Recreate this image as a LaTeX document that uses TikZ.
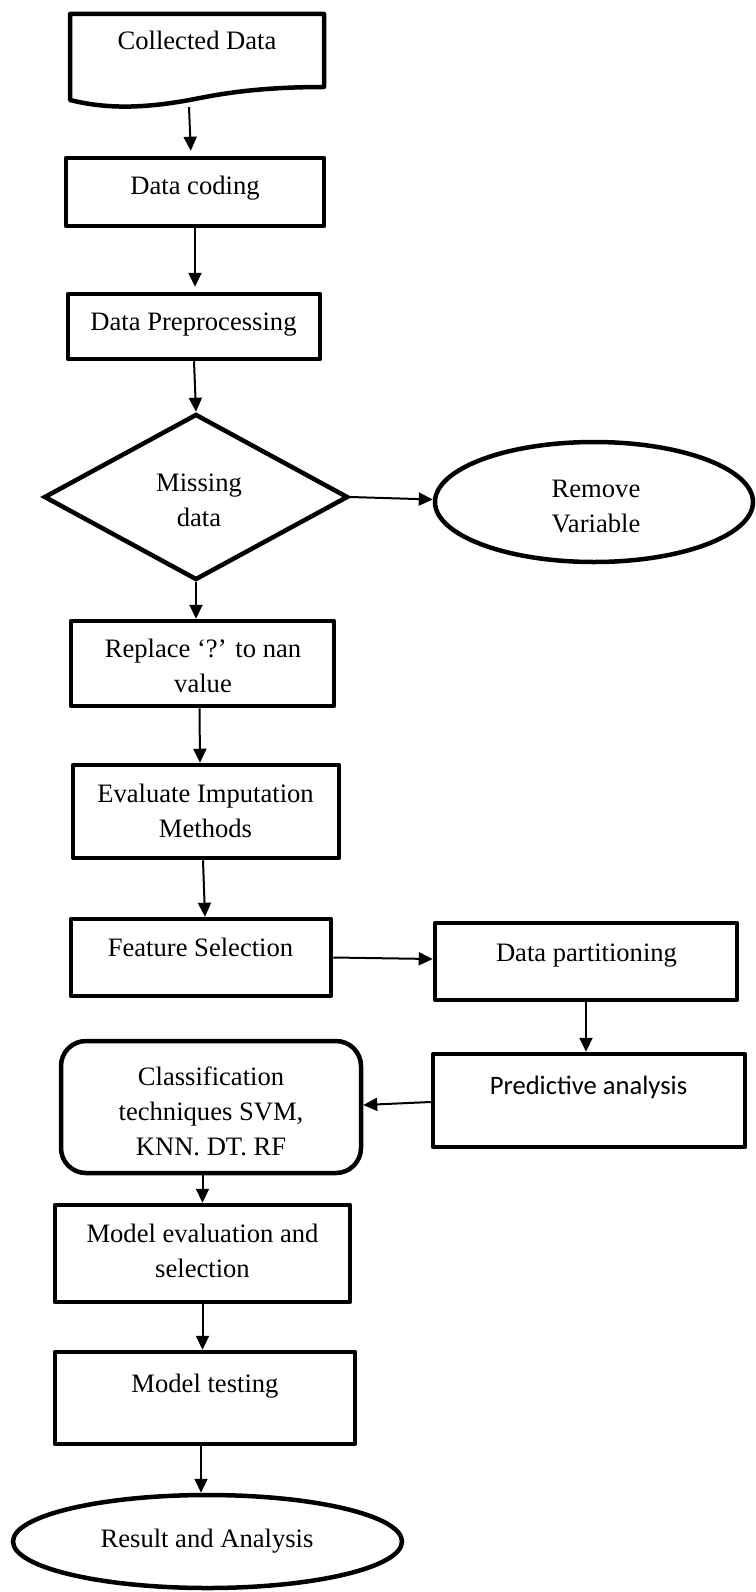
\documentclass[tikz,border=0pt]{standalone}
\usepackage{fontspec}
\setmainfont{Liberation Serif}
\newfontfamily\calfont{Carlito}
\usetikzlibrary{shapes.geometric,arrows.meta}
\begin{document}
\begin{tikzpicture}[x=1pt,y=-1pt,
  box/.style={draw,line width=4.5pt,line join=round,inner sep=0pt,rectangle},
  diam/.style={draw,line width=4.5pt,inner sep=0pt,diamond},
  oval/.style={draw,line width=4.5pt,inner sep=0pt,ellipse},
  txt/.style={anchor=base,align=center,inner sep=0pt,font=\fontsize{26.6}{35}\selectfont},
  arr/.style={line width=2pt,-{Triangle[width=13pt,length=14pt]}}]
\useasboundingbox (0,0) rectangle (755,1592);

% document shape
\draw[line width=4.5pt,line join=round] (70,14) -- (324,14) -- (324,87)
  .. controls (280,87) and (240,90) .. (200,98)
  .. controls (150,108) and (110,110) .. (70,100) -- cycle;
\node[inner sep=0pt,minimum width=258pt,minimum height=94pt] (cd) at (197,60) {};

% boxes
\node[box,minimum width=258pt,minimum height=68pt] (dc) at (195,192) {};
\node[box,minimum width=252pt,minimum height=65pt] (dp) at (194,326.5) {};
\node[diam,minimum width=304pt,minimum height=166pt] (md) at (196,497) {};
\node[oval,minimum width=318pt,minimum height=120pt] (rv) at (594,502) {};
\node[box,minimum width=263pt,minimum height=85pt] (rp) at (202.5,663.5) {};
\node[box,minimum width=266pt,minimum height=93pt] (ev) at (206,811.5) {};
\node[box,minimum width=260pt,minimum height=77pt] (fs) at (201,957.5) {};
\node[box,minimum width=302pt,minimum height=77pt] (dpt) at (586,961.5) {};
\node[box,minimum width=312pt,minimum height=93pt] (pa) at (589,1100.5) {};
\node[box,rounded corners=25pt,minimum width=300pt,minimum height=132pt] (cl) at (211,1107) {};
\node[box,minimum width=295pt,minimum height=97pt] (me) at (202.5,1253.5) {};
\node[box,minimum width=300pt,minimum height=92pt] (mt) at (205,1398) {};
\node[oval,minimum width=389pt,minimum height=93pt] (ra) at (207.5,1541.5) {};

% texts (base anchor = baseline of the last line)
\node[txt] (cdT) at (197,50) {Collected Data};
\node[txt] (dcT) at (195,194) {Data coding};
\node[txt] (dpT) at (193.5,330) {Data Preprocessing};
\node[txt] (mdT) at (199,526) {Missing\\data};
\node[txt] (rvT) at (596,532) {Remove\\Variable};
\node[txt] (rpT) at (203,692) {Replace ‘?’ to nan\\value};
\node[txt] (evT) at (205.5,837) {Evaluate Imputation\\Methods};
\node[txt] (fsT) at (200.5,956) {Feature Selection};
\node[txt] (dptT) at (586.5,961) {Data partitioning};
\node[txt,font=\calfont\fontsize{26.6}{35}\selectfont] (paT) at (588.5,1094) {Predictive analysis};
\node[txt] (clT) at (211,1155) {Classification\\techniques SVM,\\KNN. DT. RF};
\node[txt] (meT) at (202.5,1277) {Model evaluation and\\selection};
\node[txt] (mtT) at (205,1392) {Model testing};
\node[txt] (raT) at (207,1547) {Result and Analysis};

% connectors
\draw[arr,shorten >=5pt] ([xshift=-8pt]cd.south) -- ([xshift=-4pt]dc.north);
\draw[arr,shorten >=5pt] (dc.south) -- (dc.south |- dp.north);
\draw[arr] (dp.south) -- (md.north);
\draw[arr] (md.east) -- ([yshift=2.5pt]rv.west);
\draw[arr] (md.south) -- (md.south |- rp.north);
\draw[arr] ([xshift=-3pt]rp.south) -- ([xshift=-6pt]ev.north);
\draw[arr] ([xshift=-3pt]ev.south) -- ([xshift=4pt]fs.north);
\draw[arr] (fs.east) -- ([yshift=2.5pt]dpt.west);
\draw[arr] (dpt.south) -- (dpt.south |- pa.north);
\draw[arr] ([yshift=-1.5pt]pa.west) -- ([yshift=2pt]cl.east);
\draw[arr] (cl.south -| me.north) -- (me.north);
\draw[arr] (me.south) -- (me.south |- mt.north);
\draw[arr] ([xshift=-4pt]mt.south) -- ([xshift=-4pt]mt.south |- ra.north);
\end{tikzpicture}
\end{document}
